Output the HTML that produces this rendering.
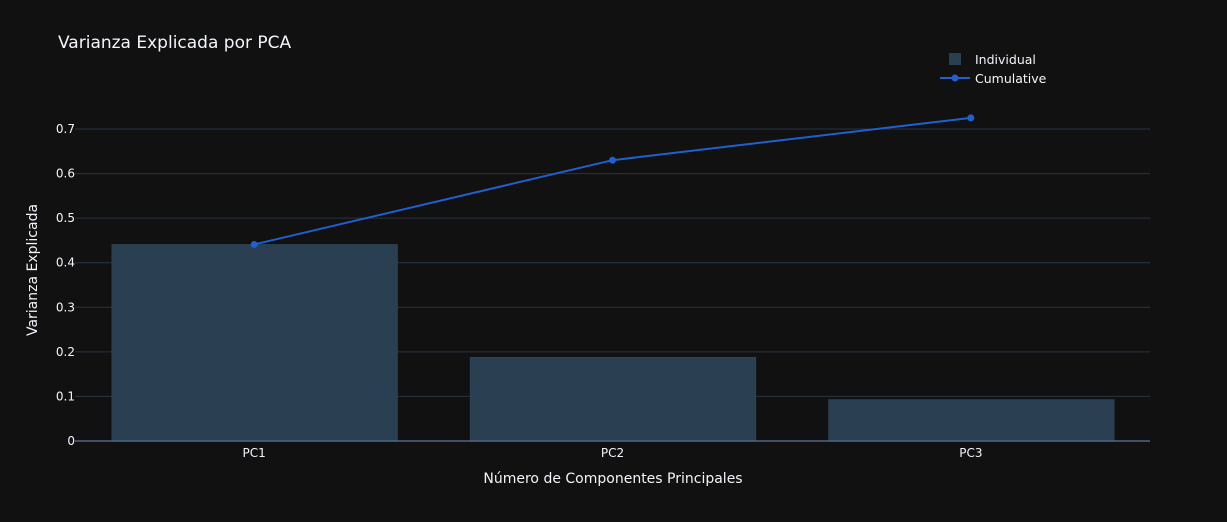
<!DOCTYPE html>
<html><head><meta charset="utf-8"><style>
body{margin:0;background:#111111;}
svg{display:block;font-family:"DejaVu Sans","Liberation Sans",sans-serif;}
</style></head><body>
<svg id="chart" width="1227" height="522">
<rect width="1227" height="522" fill="#111111"/>
<text x="58" y="48" fill="#f2f5fa" font-size="17">Varianza Explicada por PCA</text>
<g id="grid"></g><g id="bars"></g><g id="line"></g><g id="xt"></g>
<text x="613" y="483" fill="#f2f5fa" font-size="14" text-anchor="middle">Número de Componentes Principales</text>
<text transform="translate(37,270) rotate(-90)" fill="#f2f5fa" font-size="14" text-anchor="middle">Varianza Explicada</text>
<g>
<rect x="949" y="53" width="12" height="12" fill="#2a3f52"/>
<text x="975" y="64" fill="#f2f5fa" font-size="12.5">Individual</text>
<line x1="940" y1="78" x2="970" y2="78" stroke="#1f5fd0" stroke-width="2"/>
<circle cx="955" cy="78" r="3.5" fill="#1f5fd0"/>
<text x="975" y="83" fill="#f2f5fa" font-size="12.5">Cumulative</text>
</g>
</svg>
<script>
const categories=["PC1","PC2","PC3"];
const individual=[0.441,0.188,0.093];
const cumulative=[0.441,0.630,0.725];
const yTicks=[0,0.1,0.2,0.3,0.4,0.5,0.6,0.7];
const yTickLabels=["0","0.1","0.2","0.3","0.4","0.5","0.6","0.7"];
const NS="http://www.w3.org/2000/svg";
const x0=75,x1=1150,y0=441,yPer=445.7;
const band=(x1-x0)/categories.length;
const xC=i=>x0+band*(i+0.5);
const yS=v=>y0-v*yPer;
function mk(t,a,p){const e=document.createElementNS(NS,t);for(const k in a)e.setAttribute(k,a[k]);p.appendChild(e);return e;}
const G=document.getElementById('grid');
yTicks.forEach((v,i)=>{
 if(v>0){const l=mk('line',{x1:x0,x2:x1,y1:yS(v),y2:yS(v),stroke:'#283442','stroke-width':1},G);
 
 }
 const t=mk('text',{x:x0,y:yS(v)+4,fill:'#f2f5fa','font-size':12,'text-anchor':'end'},G);
 t.textContent=yTickLabels[i];
 
 
});
const B=document.getElementById('bars');
individual.forEach((v,i)=>{
 const w=band*0.8;
 const r=mk('rect',{x:xC(i)-w/2+1,y:yS(v),width:w-1,height:y0-yS(v),fill:'#2a3f52',stroke:'#34495c','stroke-width':0.5},B);
 
 
});
const zl=mk('line',{x1:x0,x2:x1,y1:y0,y2:y0,stroke:'#506784','stroke-width':1.5},B);


const L=document.getElementById('line');
const pl=mk('polyline',{points:cumulative.map((v,i)=>xC(i)+','+yS(v)).join(' '),fill:'none',stroke:'#1f5fd0','stroke-width':2},L);


cumulative.forEach((v,i)=>{
 const c=mk('circle',{cx:xC(i),cy:yS(v),r:3.5,fill:'#1f5fd0'},L);
 
 
});
const X=document.getElementById('xt');
categories.forEach((c,i)=>{
 const t=mk('text',{x:xC(i),y:457,fill:'#f2f5fa','font-size':12,'text-anchor':'middle'},X);
 t.textContent=c;
 
 
});
</script>
</body></html>
